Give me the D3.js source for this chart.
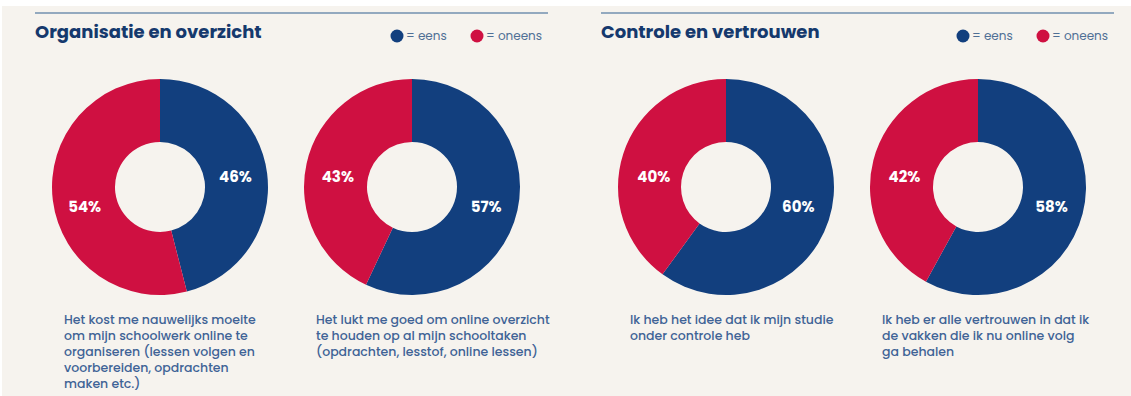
<!DOCTYPE html>
<html>
<head>
<meta charset="utf-8">
<script src="https://cdn.jsdelivr.net/npm/d3@7"></script>
<style>
  html, body { margin: 0; padding: 0; background: #ffffff; }
  svg { display: block; }
</style>
</head>
<body>
<script>
// data
var panelTitles = ["Organisatie en overzicht", "Controle en vertrouwen"];
var legendLabels = ["= eens", "= oneens"];
var eens   = [46, 57, 60, 58];
var oneens = [54, 43, 40, 42];
var chartPanel = [0, 0, 1, 1];
var statements = [
  ["Het kost me nauwelijks moeite", "om mijn schoolwerk online te", "organiseren (lessen volgen en", "voorbereiden, opdrachten", "maken etc.)"],
  ["Het lukt me goed om online overzicht", "te houden op al mijn schooltaken", "(opdrachten, lesstof, online lessen)"],
  ["Ik heb het idee dat ik mijn studie", "onder controle heb"],
  ["Ik heb er alle vertrouwen in dat ik", "de vakken die ik nu online volg", "ga behalen"]
];

var W = 1131, H = 396;
var blue = "#123f7e", red = "#cf1041", bg = "#f6f3ee";
var font = "Poppins, 'Open Sans', 'Noto Sans', sans-serif";

var svg = d3.select("body").append("svg")
    .attr("width", W)
    .attr("height", H);

svg.append("rect")
    .attr("x", 2).attr("y", 6)
    .attr("width", W - 2).attr("height", H - 6)
    .attr("fill", bg);

// panel positions
var panelX = d3.scaleLinear().domain([0, 1]).range([35, 601]);
var panelW = 513;

var panels = svg.selectAll(".panel")
    .data(panelTitles)
  .enter().append("g")
    .attr("class", "panel")
    .attr("transform", function(d, i) { return "translate(" + panelX(i) + ",0)"; });

panels.append("line")
    .attr("x1", 0).attr("x2", panelW)
    .attr("y1", 13).attr("y2", 13)
    .attr("stroke", "#93a9bf")
    .attr("stroke-width", 2);

panels.append("text")
    .attr("x", 0).attr("y", 38)
    .attr("font-family", font)
    .attr("font-weight", 700)
    .attr("font-size", 18)
    .attr("fill", "#15396d")
    .text(function(d) { return d; });

// legend
var legendX = d3.scalePoint().domain(legendLabels).range([362, 442]);
var legendColor = d3.scaleOrdinal().domain(legendLabels).range([blue, red]);

var leg = panels.selectAll(".leg")
    .data(legendLabels)
  .enter().append("g")
    .attr("class", "leg")
    .attr("transform", function(d) { return "translate(" + legendX(d) + ",36)"; });

leg.append("circle")
    .attr("r", 6.5)
    .attr("fill", function(d) { return legendColor(d); });

leg.append("text")
    .attr("x", 9).attr("y", 4)
    .attr("font-family", font)
    .attr("font-size", 12)
    .attr("fill", "#4f6f95")
    .text(function(d) { return d; });

// donuts
var pie = d3.pie().sort(null).value(function(d) { return d.v; });
var arc = d3.arc().innerRadius(45).outerRadius(108);
var labelArc = d3.arc().innerRadius(76).outerRadius(76);

var charts = svg.selectAll(".donut")
    .data(eens)
  .enter().append("g")
    .attr("class", "donut")
    .attr("transform", function(d, i) {
      var slot = i % 2;
      return "translate(" + (panelX(chartPanel[i]) + 125 + slot * 252) + ",187)";
    });

var slices = charts.selectAll(".slice")
    .data(function(d, i) {
      return pie([{k: legendLabels[0], v: eens[i]}, {k: legendLabels[1], v: oneens[i]}]);
    })
  .enter().append("g")
    .attr("class", "slice");

slices.append("path")
    .attr("d", arc)
    .attr("fill", function(d) { return legendColor(d.data.k); });

slices.append("text")
    .attr("x", function(d) { return labelArc.centroid(d)[0]; })
    .attr("y", function(d) { return labelArc.centroid(d)[1] < 0 ? -10 : 20; })
    .attr("dy", "0.36em")
    .attr("text-anchor", "middle")
    .attr("font-family", font)
    .attr("font-weight", 700)
    .attr("font-size", 15)
    .attr("fill", "#ffffff")
    .text(function(d) { return d.data.v + "%"; });

// statements under each donut
charts.append("text")
    .attr("x", -96)
    .attr("y", 137)
    .attr("font-family", font)
    .attr("font-weight", 500)
    .attr("font-size", 12.5)
    .attr("fill", "#3f6396")
    .selectAll("tspan")
    .data(function(d, i) { return statements[i]; })
  .enter().append("tspan")
    .attr("x", -96)
    .attr("dy", function(d, j) { return j === 0 ? 0 : 16; })
    .text(function(d) { return d; });
</script>
</body>
</html>
